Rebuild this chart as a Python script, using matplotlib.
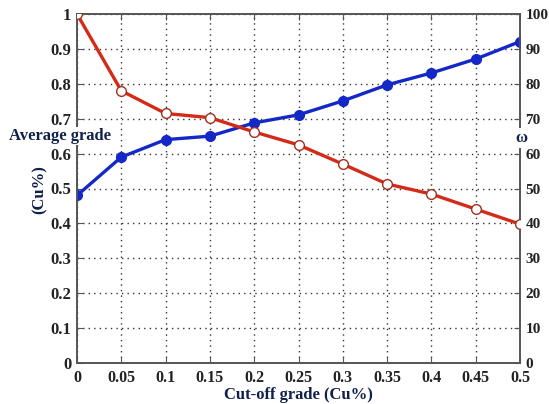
import matplotlib
matplotlib.use("Agg")
import matplotlib.pyplot as plt

cutoff = [0, 0.05, 0.1, 0.15, 0.2, 0.25, 0.3, 0.35, 0.4, 0.45, 0.5]
avg_grade = [0.48, 0.59, 0.64, 0.65, 0.688, 0.711, 0.751, 0.797, 0.831, 0.871, 0.921]
omega = [100, 78, 71.5, 70.3, 66.2, 62.5, 57.0, 51.3, 48.4, 44.1, 39.8]
xticks = [0, 0.05, 0.1, 0.15, 0.2, 0.25, 0.3, 0.35, 0.4, 0.45, 0.5]
xticklabels = ["0", "0.05", "0.1", "0.15", "0.2", "0.25", "0.3", "0.35", "0.4", "0.45", "0.5"]
yticks_left = [0, 0.1, 0.2, 0.3, 0.4, 0.5, 0.6, 0.7, 0.8, 0.9, 1]
yticklabels_left = ["0", "0.1", "0.2", "0.3", "0.4", "0.5", "0.6", "0.7", "0.8", "0.9", "1"]
yticks_right = [0, 10, 20, 30, 40, 50, 60, 70, 80, 90, 100]

plt.rcParams['font.family'] = ['Liberation Serif', 'DejaVu Serif']
plt.rcParams['font.weight'] = 'bold'

fig = plt.figure(figsize=(5.49, 4.04), dpi=100)
ax = fig.add_axes([77/549, 1 - 363/404, (520-77)/549, (363-14)/404])
ax2 = ax.twinx()

spine_c = '#555555'
for a in (ax, ax2):
    for s in a.spines.values():
        s.set_color(spine_c)
        s.set_linewidth(1.2)

ax.set_xlim(0, 0.5)
ax.set_ylim(0, 1)
ax2.set_ylim(0, 100)
ax.set_xticks(xticks)
ax.set_xticklabels(xticklabels)
ax.set_yticks(yticks_left)
ax.set_yticklabels(yticklabels_left)
ax2.set_yticks(yticks_right)

ax.grid(True, linestyle=(0, (1, 3)), color='#333333', linewidth=1.0)
ax.tick_params(axis='y', direction='in', length=4, color=spine_c, labelsize=12, pad=4)
ax.tick_params(axis='x', direction='in', length=4, color=spine_c, labelsize=11.5, pad=5, top=True)
ax2.tick_params(direction='in', length=4, color=spine_c, labelsize=11, pad=4)
for lab in ax.get_xticklabels() + ax.get_yticklabels() + ax2.get_yticklabels():
    lab.set_fontweight('bold')
    lab.set_color('#222222')

ax.plot(cutoff, avg_grade, color='#1428c8', linewidth=2.4, marker='o',
        markersize=7, markerfacecolor='#1428c8', markeredgecolor='#1428c8', zorder=5)
ax2.plot(cutoff, omega, color='#d42a18', linewidth=2.4, marker='o',
         markersize=7, markerfacecolor='white', markeredgecolor='#a03020', zorder=5)

ax.set_xlabel("Cut-off grade (Cu%)", fontsize=12, fontweight='bold', color='#10204a', labelpad=1)

fig.text(60/549, 1 - 136/404, "Average grade", fontsize=12, fontweight='bold',
         color='#10204a', ha='center', va='center',
         bbox=dict(facecolor='white', edgecolor='none', pad=1))
fig.text(40/549, 1 - 190/404, "(Cu%)", fontsize=12, fontweight='bold',
         color='#10204a', ha='center', va='center', rotation=90)
fig.text(521/549, 1 - 138/404, "ω", fontsize=12, fontweight='bold',
         color='#10204a', ha='center', va='center',
         bbox=dict(facecolor='white', edgecolor='none', pad=1.5))

fig.savefig("out.png", dpi=100)
